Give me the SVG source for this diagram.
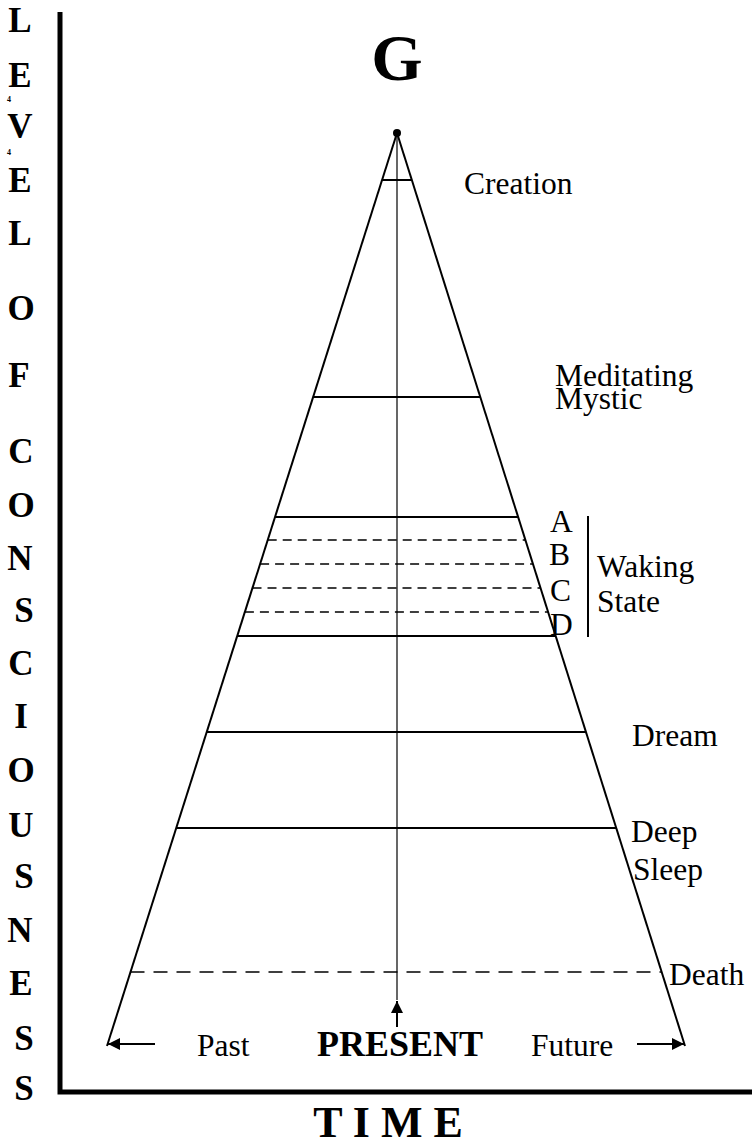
<svg xmlns="http://www.w3.org/2000/svg" width="752" height="1146" viewBox="0 0 752 1146">
<style>
.ax{stroke:#000;stroke-width:5;fill:none}
.ln{stroke:#000;stroke-width:2;fill:none}
.thin{stroke:#000;stroke-width:1.2;fill:none}
.ds{stroke:#000;stroke-width:1.6;fill:none;stroke-dasharray:9 6}
.dl{stroke:#000;stroke-width:1.6;fill:none;stroke-dasharray:14 9}
.vl{font-family:"Liberation Serif","Times New Roman",serif;font-weight:bold;font-size:35px;text-anchor:middle}
.lb{font-family:"Liberation Serif","Times New Roman",serif;font-size:31.5px}
.sm{font-family:"Liberation Serif","Times New Roman",serif;font-weight:bold;font-size:8px}
</style>
<defs>
<marker id="ah" viewBox="0 0 10 10" refX="10" refY="5" markerWidth="14" markerHeight="12" markerUnits="userSpaceOnUse" orient="auto">
<path d="M0,0 L10,5 L0,10 z" fill="#000"/>
</marker>
</defs>
<rect width="752" height="1146" fill="#fff"/>
<g id="axes">
<polyline class="ax" points="60,12 60,1092 752,1092"/>
</g>
<g id="y-axis-label">
<text class="vl" x="20" y="32">L</text>
<text class="vl" x="20" y="87">E</text>
<text class="sm" x="7" y="102">4</text>
<text class="vl" x="20" y="138">V</text>
<text class="sm" x="7" y="155">4</text>
<text class="vl" x="20" y="192">E</text>
<text class="vl" x="20" y="245">L</text>
<text class="vl" x="21" y="320">O</text>
<text class="vl" x="19" y="387">F</text>
<text class="vl" x="21" y="463">C</text>
<text class="vl" x="21" y="517">O</text>
<text class="vl" x="20" y="570" font-weight="normal">N</text>
<text class="vl" x="24" y="622">S</text>
<text class="vl" x="21" y="675">C</text>
<text class="vl" x="21" y="728">I</text>
<text class="vl" x="21" y="782">O</text>
<text class="vl" x="21" y="837">U</text>
<text class="vl" x="24" y="888">S</text>
<text class="vl" x="20" y="942" font-weight="normal">N</text>
<text class="vl" x="21" y="995">E</text>
<text class="vl" x="24" y="1050">S</text>
<text class="vl" x="24" y="1100">S</text>
</g>
<g id="x-axis-label">
<text x="388" y="1137" font-family="'Liberation Serif','Times New Roman',serif" font-weight="bold" font-size="44" text-anchor="middle">T I M E</text>
</g>
<g id="G">
<text x="397" y="80" font-family="'Liberation Serif','Times New Roman',serif" font-weight="bold" font-size="66" text-anchor="middle">G</text>
</g>
<g id="pyramid">
<line class="ln" x1="397" y1="133" x2="107" y2="1046"/>
<line class="ln" x1="397" y1="133" x2="685" y2="1046"/>
<line class="thin" x1="397" y1="133" x2="397" y2="1000"/>
<circle cx="397" cy="133" r="4" fill="#000"/>
</g>
<g id="levels">
<line class="ln" x1="382.1" y1="180" x2="411.8" y2="180"/>
<line class="ln" x1="313.1" y1="397" x2="480.3" y2="397"/>
<line class="ln" x1="275" y1="517" x2="518.1" y2="517"/>
<line class="ds" x1="267.7" y1="540" x2="525.4" y2="540"/>
<line class="ds" x1="260.1" y1="564" x2="533" y2="564"/>
<line class="ds" x1="252.5" y1="588" x2="540.5" y2="588"/>
<line class="ds" x1="244.9" y1="612" x2="548.1" y2="612"/>
<line class="ln" x1="237.2" y1="636" x2="555.7" y2="636"/>
<line class="ln" x1="206.7" y1="732" x2="586" y2="732"/>
<line class="ln" x1="176.2" y1="828" x2="616.2" y2="828"/>
<line class="dl" x1="130.5" y1="972" x2="661.7" y2="972"/>
</g>
<g id="labels">
<text class="lb" x="464" y="194">Creation</text>
<text class="lb" x="555" y="386">Meditating</text>
<text class="lb" x="555" y="409">Mystic</text>
<text class="lb" x="550" y="532">A</text>
<text class="lb" x="549" y="565">B</text>
<text class="lb" x="550" y="601">C</text>
<text class="lb" x="550" y="635">D</text>
<line class="ln" x1="588" y1="516" x2="588" y2="637"/>
<text class="lb" x="597" y="577">Waking</text>
<text class="lb" x="597" y="612">State</text>
<text class="lb" x="632" y="746">Dream</text>
<text class="lb" x="631" y="842">Deep</text>
<text class="lb" x="633" y="880">Sleep</text>
<text class="lb" x="669" y="985">Death</text>
</g>
<g id="connectors">
<line class="ln" x1="155" y1="1044" x2="108" y2="1044" marker-end="url(#ah)"/>
<line class="ln" x1="637" y1="1044" x2="684" y2="1044" marker-end="url(#ah)"/>
<line class="ln" x1="397" y1="1027" x2="397" y2="1001" marker-end="url(#ah)"/>
</g>
<g id="time-labels">
<text class="lb" x="197" y="1056">Past</text>
<text x="400" y="1056" font-family="'Liberation Serif','Times New Roman',serif" font-weight="bold" font-size="36" text-anchor="middle">PRESENT</text>
<text class="lb" x="531" y="1056">Future</text>
</g>
</svg>
